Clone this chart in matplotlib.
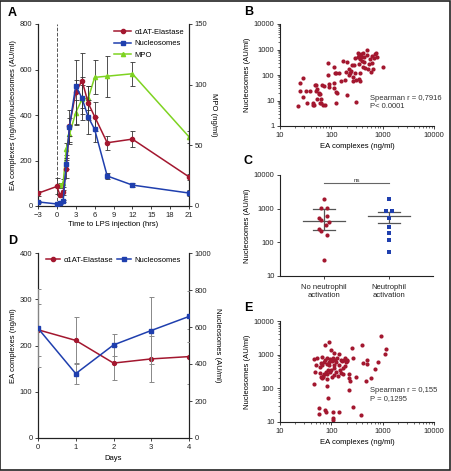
import matplotlib
matplotlib.use('Agg')
import matplotlib.pyplot as plt
import numpy as np
from matplotlib.patches import Rectangle
from matplotlib.lines import Line2D

plt.rcParams['font.family'] = ['Liberation Sans', 'DejaVu Sans']
plt.rcParams['font.size'] = 5
NARROW = ['Liberation Sans Narrow', 'Liberation Sans', 'DejaVu Sans']

RED = '#a3172f'
BLUE = '#1f3fae'
GREEN = '#7ed321'
ERR = '#333333'

# ---- panel A data (time course after LPS)
hrs = [-3, 0, 0.5, 1, 1.5, 2, 3, 4, 5, 6, 8, 12, 21]
ea = [56, 86, 48, 60, 163, 352, 500, 551, 451, 393, 278, 294, 128]
ea_err = [10, 35, 10, 12, 40, 70, 140, 120, 75, 65, 30, 35, 12]
nuc = [18, 9, 15, 22, 186, 349, 529, 473, 390, 337, 132, 92, 57]
nuc_err = [5, 5, 5, 5, 25, 40, 25, 95, 75, 55, 15, 8, 15]
mpo_hrs = [0.5, 1, 1.5, 2, 3, 4, 5, 6, 8, 12, 21]
mpo = [17, 19, 47, 59, 77, 88, 89, 106, 107, 109, 57]
mpo_err = [2, 3, 5, 8, 10, 12, 10, 14, 17, 10, 5]

# ---- panel B data (log10 values)
b_ea_log = [1.36, 1.38, 1.38, 1.44, 1.44, 1.50, 1.53, 1.58, 1.64, 1.65, 1.67, 1.69, 1.71, 1.71, 1.72,
            1.73, 1.75, 1.76, 1.78, 1.78, 1.79, 1.80, 1.82, 1.84, 1.86, 1.88, 1.93, 1.94, 1.95, 1.96,
            2.05, 2.05, 2.06, 2.08, 2.10, 2.10, 2.10, 2.15, 2.12, 2.19, 2.22, 2.27, 2.29, 2.31, 2.30,
            2.34, 2.35, 2.37, 2.39, 2.40, 2.42, 2.43, 2.45, 2.46, 2.47, 2.48, 2.49, 2.51, 2.51, 2.53,
            2.53, 2.54, 2.55, 2.56, 2.56, 2.57, 2.58, 2.59, 2.61, 2.62, 2.64, 2.64, 2.66, 2.69, 2.69,
            2.71, 2.74, 2.75, 2.77, 2.79, 2.79, 2.81, 2.83, 2.86, 2.87, 2.88, 3.01]
b_nuc_log = [0.80, 1.36, 1.70, 1.12, 1.88, 1.39, 0.89, 1.39, 0.89, 0.84, 0.84, 1.61, 1.39, 1.59, 1.46,
             1.07, 1.25, 1.31, 0.89, 1.25, 1.05, 0.89, 1.62, 0.81, 1.58, 0.81, 2.48, 1.99, 1.65, 1.54,
             2.33, 1.48, 1.70, 2.09, 0.89, 1.32, 2.07, 2.07, 1.31, 1.76, 2.56, 1.80, 2.13, 2.50, 1.20,
             2.00, 2.22, 2.09, 2.17, 2.39, 1.93, 1.75, 2.39, 2.65, 2.07, 1.80, 0.94, 2.72, 2.85, 2.42,
             1.84, 2.80, 2.63, 1.78, 2.09, 2.84, 2.72, 2.56, 2.85, 2.33, 2.69, 2.52, 2.29, 2.98, 2.78,
             2.22, 2.42, 2.63, 2.13, 2.46, 2.75, 2.22, 2.68, 2.81, 2.85, 2.69, 2.33]

# ---- panel C data
groups = ['No neutrophil\nactivation', 'Neutrophil\nactivation']
c_no = [1950, 1060, 1060, 600, 530, 470, 400, 320, 250, 210, 165, 29]
c_no_jit = [0.0, -0.04, 0.04, 0.04, -0.08, -0.04, 0.07, 0.03, -0.08, -0.04, 0.04, 0.0]
c_yes = [1950, 840, 840, 530, 290, 195, 120, 50]
c_yes_jit = [0.0, -0.04, 0.045, 0.0, 0.0, 0.0, 0.0, 0.0]
c_mean = [445, 600]
c_sem_lo = [230, 380]
c_sem_hi = [950, 820]

# ---- panel D data
days = [0, 1, 2, 3, 4]
d_ea = [234, 211, 162, 171, 176]
d_ea_err = [56, 50, 36, 50, 60]
d_nuc = [593, 348, 503, 581, 657]
d_nuc_err = [210, 58, 60, 180, 137]

# ---- panel E data (log10 values)
e_ea_log = [1.67, 1.66, 1.69, 1.71, 1.73, 1.75, 1.76, 1.77, 1.78, 1.79, 1.79, 1.81, 1.81, 1.82, 1.83,
            1.84, 1.86, 1.86, 1.88, 1.88, 1.88, 1.89, 1.90, 1.91, 1.91, 1.92, 1.92, 1.92, 1.94, 1.94,
            1.95, 1.96, 1.96, 1.97, 1.98, 1.99, 2.00, 2.01, 2.02, 2.03, 2.03, 2.04, 2.04, 2.05, 2.05,
            2.06, 2.06, 2.08, 2.09, 2.10, 2.12, 2.13, 2.14, 2.14, 2.15, 2.17, 2.18, 2.19, 2.20, 2.22,
            2.23, 2.25, 2.27, 2.27, 2.29, 2.30, 2.31, 2.34, 2.34, 2.35, 2.36, 2.40, 2.42, 2.43, 2.49,
            2.57, 2.60, 2.61, 2.69, 2.68, 2.70, 2.77, 2.86, 2.90, 2.97, 3.05, 3.06]
e_nuc_log = [2.12, 2.86, 2.48, 2.70, 2.89, 1.42, 1.25, 2.62, 2.46, 2.35, 2.75, 2.94, 2.30, 2.70, 2.37,
             2.33, 2.77, 2.42, 1.36, 3.28, 2.85, 1.31, 2.50, 2.73, 2.42, 2.08, 2.91, 2.27, 1.71, 2.54,
             2.78, 3.39, 2.70, 2.86, 2.48, 2.55, 3.14, 2.35, 2.80, 1.29, 2.89, 1.12, 1.06, 2.60, 3.04,
             2.40, 2.70, 2.85, 2.50, 2.78, 2.89, 2.38, 3.03, 1.29, 2.70, 2.55, 2.85, 2.45, 2.80, 2.42,
             2.60, 2.85, 2.89, 2.65, 2.77, 2.84, 2.82, 1.94, 2.30, 2.44, 2.22, 3.19, 2.89, 1.46, 2.35,
             1.20, 3.29, 2.75, 2.72, 2.22, 2.83, 2.32, 2.58, 2.77, 3.56, 3.01, 3.16]

W, H = 451, 471
fig = plt.figure(figsize=(W / 100, H / 100), dpi=100)


def rect(l, t, r, b):
    return [l / W, 1 - b / H, (r - l) / W, (b - t) / H]


def style(ax):
    ax.tick_params(labelsize=5.5, length=2.5, width=0.6, pad=1.5, colors='#222222')
    for s in ax.spines.values():
        s.set_linewidth(0.8)
        s.set_color('#222222')


def logfmt(ax, axis='y'):
    f = matplotlib.ticker.FuncFormatter(lambda v, p: '%g' % v)
    (ax.yaxis if axis == 'y' else ax.xaxis).set_major_formatter(f)


def handle(color, marker):
    return Line2D([], [], color=color, marker=marker, ms=3, lw=1.1)


# ---------------- A
axA = fig.add_axes(rect(38, 24, 189, 206))
axA.axvline(0, color='#555555', ls='--', lw=0.7)
axA.errorbar(hrs, ea, yerr=ea_err, color=RED, marker='o', ms=3, lw=1.1,
             ecolor=ERR, elinewidth=0.6, capsize=1.8, capthick=0.6, zorder=3)
axA.errorbar(hrs, nuc, yerr=nuc_err, color=BLUE, marker='s', ms=3, lw=1.1,
             ecolor=ERR, elinewidth=0.6, capsize=1.8, capthick=0.6, zorder=3)
axA2 = axA.twinx()
axA2.errorbar(mpo_hrs, mpo, yerr=mpo_err, color=GREEN, marker='^', ms=3, lw=1.1,
              ecolor=ERR, elinewidth=0.6, capsize=1.8, capthick=0.6, zorder=2)
axA.set_xlim(-3, 21)
axA.set_ylim(0, 800)
axA2.set_ylim(0, 150)
axA.set_xticks([-3, 0, 3, 6, 9, 12, 15, 18, 21])
axA.set_yticks([0, 200, 400, 600, 800])
axA2.set_yticks([0, 50, 100, 150])
for a in (axA, axA2):
    style(a)
    a.spines['top'].set_visible(False)
axA.set_zorder(axA2.get_zorder() + 1)
axA.patch.set_visible(False)
axA.set_xlabel('Time to LPS injection (hrs)', family=NARROW, fontsize=5.5, labelpad=2)
axA.set_ylabel('EA complexes (ng/ml)/nucleosomes (AU/ml)', family=NARROW, fontsize=5.5, labelpad=2)
axA2.set_ylabel('MPO (ng/ml)', family=NARROW, fontsize=5.5, rotation=270, labelpad=7)
axA.legend([handle(RED, 'o'), handle(BLUE, 's'), handle(GREEN, '^')],
           ['\u03b11AT-Elastase', 'Nucleosomes', 'MPO'], loc='upper right', frameon=False,
           fontsize=5.5, handlelength=2.2, handletextpad=0.5, borderaxespad=0.2, labelspacing=0.55)

# ---------------- B
axB = fig.add_axes(rect(280, 24, 434, 126))
axB.scatter(10 ** np.array(b_ea_log), 10 ** np.array(b_nuc_log), s=9, color=RED, lw=0)
axB.set_xscale('log')
axB.set_yscale('log')
axB.set_xlim(10, 10000)
axB.set_ylim(1, 10000)
logfmt(axB, 'x')
logfmt(axB, 'y')
style(axB)
axB.tick_params(which='minor', length=1.5, width=0.4)
axB.spines['top'].set_visible(False)
axB.spines['right'].set_visible(False)
axB.set_xlabel('EA complexes (ng/ml)', family=NARROW, fontsize=5.5, labelpad=3)
axB.set_ylabel('Nucleosomes (AU/ml)', family=NARROW, fontsize=5.5, labelpad=2)
axB.text(0.585, 0.23, 'Spearman r = 0,7916\nP< 0.0001', transform=axB.transAxes,
         fontsize=5.5, va='center', color='#333333', linespacing=1.3)

# ---------------- C
axC = fig.add_axes(rect(280, 175, 433, 276))
axC.scatter(1 + np.array(c_no_jit), c_no, s=9, color=RED, lw=0, marker='o', zorder=3)
axC.scatter(2 + np.array(c_yes_jit), c_yes, s=10, color=BLUE, lw=0, marker='s', zorder=3)
for i, x in enumerate([1, 2]):
    axC.plot([x - 0.33, x + 0.33], [c_mean[i]] * 2, color='#555555', lw=0.9, zorder=2)
    axC.plot([x, x], [c_sem_lo[i], c_sem_hi[i]], color='#555555', lw=0.9, zorder=2)
    for v in (c_sem_lo[i], c_sem_hi[i]):
        axC.plot([x - 0.17, x + 0.17], [v, v], color='#555555', lw=0.9, zorder=2)
axC.plot([1, 2], [5600, 5600], color='#666666', lw=0.8)
axC.text(1.5, 5900, 'ns', ha='center', va='bottom', fontsize=4.5, color='#333333')
axC.set_yscale('log')
axC.set_ylim(10, 10000)
axC.set_xlim(0.32, 2.68)
axC.set_xticks([1, 2])
axC.set_xticklabels(groups, fontsize=5.5, linespacing=1.3)
axC.yaxis.set_minor_locator(matplotlib.ticker.NullLocator())
logfmt(axC)
style(axC)
axC.tick_params(axis='x', pad=3)
axC.spines['top'].set_visible(False)
axC.spines['right'].set_visible(False)
axC.set_ylabel('Nucleosomes (AU/ml)', family=NARROW, fontsize=5.5, labelpad=2)

# ---------------- D
axD = fig.add_axes(rect(38, 253, 189, 438))
axD.errorbar(days, d_ea, yerr=d_ea_err, color=RED, marker='o', ms=2.8, lw=1.1,
             ecolor='#888888', elinewidth=0.7, capsize=1.8, capthick=0.7, zorder=3)
axD2 = axD.twinx()
axD2.errorbar(days, d_nuc, yerr=d_nuc_err, color=BLUE, marker='s', ms=2.8, lw=1.1,
              ecolor='#888888', elinewidth=0.7, capsize=1.8, capthick=0.7, zorder=3)
axD.set_xlim(0, 4)
axD.set_ylim(0, 400)
axD2.set_ylim(0, 1000)
axD.set_xticks(days)
axD.set_yticks([0, 100, 200, 300, 400])
axD2.set_yticks([0, 200, 400, 600, 800, 1000])
for a in (axD, axD2):
    style(a)
    a.spines['top'].set_visible(False)
axD.set_xlabel('Days', family=NARROW, fontsize=5.5, labelpad=3)
axD.set_ylabel('EA complexes (ng/ml)', family=NARROW, fontsize=5.5, labelpad=2)
axD2.set_ylabel('Nucleosomes (AU/ml)', family=NARROW, fontsize=5.5, rotation=270, labelpad=7)
axD2.legend([handle(RED, 'o'), handle(BLUE, 's')], ['\u03b11AT-Elastase', 'Nucleosomes'],
            loc='upper center', bbox_to_anchor=(0.5, 1.0), ncol=2, frameon=False,
            fontsize=5.5, handlelength=1.8, columnspacing=0.6, handletextpad=0.4, borderaxespad=0.1)

# ---------------- E
axE = fig.add_axes(rect(280, 321, 434, 422))
axE.scatter(10 ** np.array(e_ea_log), 10 ** np.array(e_nuc_log), s=9, color=RED, lw=0)
axE.set_xscale('log')
axE.set_yscale('log')
axE.set_xlim(10, 10000)
axE.set_ylim(10, 10000)
logfmt(axE, 'x')
logfmt(axE, 'y')
style(axE)
axE.tick_params(which='minor', length=1.5, width=0.4)
axE.spines['top'].set_visible(False)
axE.spines['right'].set_visible(False)
axE.set_xlabel('EA complexes (ng/ml)', family=NARROW, fontsize=5.5, labelpad=3)
axE.set_ylabel('Nucleosomes (AU/ml)', family=NARROW, fontsize=5.5, labelpad=2)
axE.text(0.585, 0.27, 'Spearman r = 0,155\nP = 0,1295', transform=axE.transAxes,
         fontsize=5.5, va='center', color='#333333', linespacing=1.3)

# panel letters
for lab, x, y in [('A', 8, 13), ('B', 244, 12), ('C', 244, 161), ('D', 8, 241), ('E', 244, 308)]:
    fig.text(x / W, 1 - y / H, lab, fontsize=9, fontweight='bold', va='center', ha='left')

# frame
fig.patches.append(Rectangle((0.001, 0.003), 0.996, 0.995, transform=fig.transFigure,
                             fill=False, edgecolor='#222222', lw=1.2))

fig.savefig('out.png', dpi=100)
